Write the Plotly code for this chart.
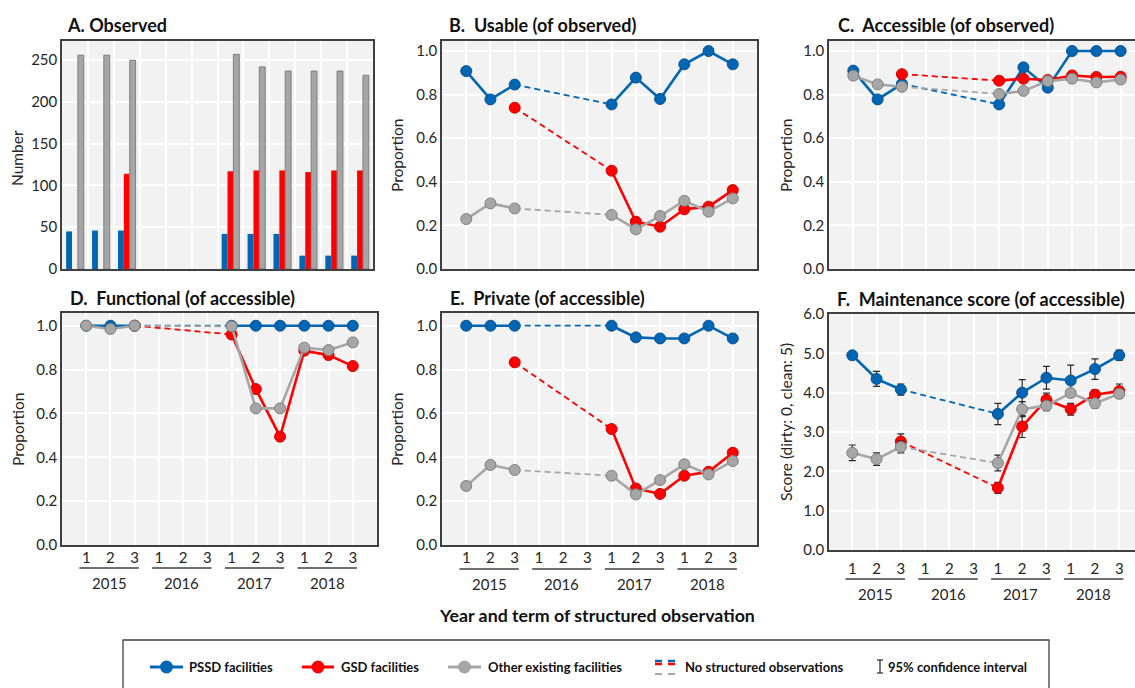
import plotly.graph_objects as go

W, H = 1135, 688

# ---------------- data ----------------
terms = ["1", "2", "3", "1", "2", "3", "1", "2", "3", "1", "2", "3"]
years = ["2015", "2016", "2017", "2018"]
xi = list(range(12))

obs_pssd = [45, 46, 46, None, None, None, 42, 42, 42, 16, 16, 16]
obs_gsd = [None, None, 114, None, None, None, 117, 118, 118, 116, 118, 118]
obs_other = [256, 256, 250, None, None, None, 257, 242, 237, 237, 237, 232]

usable_pssd = [0.908, 0.778, 0.846, None, None, None, 0.755, 0.878, 0.780, 0.939, 1.0, 0.939]
usable_gsd = [None, None, 0.740, None, None, None, 0.451, 0.217, 0.194, 0.274, 0.286, 0.362]
usable_other = [0.229, 0.301, 0.278, None, None, None, 0.248, 0.182, 0.243, 0.313, 0.263, 0.324]

access_pssd = [0.910, 0.778, 0.849, None, None, None, 0.755, 0.925, 0.832, 1.0, 1.0, 1.0]
access_gsd = [None, None, 0.894, None, None, None, 0.864, 0.873, 0.867, 0.888, 0.881, 0.882]
access_other = [0.887, 0.847, 0.836, None, None, None, 0.803, 0.817, 0.862, 0.873, 0.856, 0.869]

func_pssd = [1.0, 1.0, 1.0, None, None, None, 1.0, 1.0, 1.0, 1.0, 1.0, 1.0]
func_gsd = [None, None, 1.0, None, None, None, 0.960, 0.711, 0.494, 0.886, 0.866, 0.816]
func_other = [1.0, 0.985, 1.0, None, None, None, 0.997, 0.623, 0.623, 0.900, 0.889, 0.924]

priv_pssd = [1.0, 1.0, 1.0, None, None, None, 1.0, 0.947, 0.942, 0.942, 1.0, 0.942]
priv_gsd = [None, None, 0.833, None, None, None, 0.529, 0.258, 0.233, 0.316, 0.334, 0.421]
priv_other = [0.269, 0.365, 0.342, None, None, None, 0.316, 0.231, 0.296, 0.368, 0.322, 0.383]

maint_pssd = [4.95, 4.35, 4.08, None, None, None, 3.46, 4.00, 4.38, 4.31, 4.60, 4.95]
maint_pssd_ci = [0.08, 0.19, 0.14, None, None, None, 0.27, 0.33, 0.29, 0.39, 0.26, 0.13]
maint_gsd = [None, None, 2.76, None, None, None, 1.58, 3.14, 3.82, 3.58, 3.95, 4.04]
maint_gsd_ci = [None, None, 0.19, None, None, None, 0.14, 0.28, 0.17, 0.15, 0.12, 0.18]
maint_other = [2.47, 2.31, 2.62, None, None, None, 2.21, 3.58, 3.67, 3.99, 3.73, 3.97]
maint_other_ci = [0.20, 0.16, 0.15, None, None, None, 0.20, 0.19, 0.13, 0.11, 0.12, 0.09]

BLUE, RED, GRAY = "#0066b3", "#ff0000", "#a6a6a6"
EDGE = {BLUE: "#0a4f8f", RED: "#d00000", GRAY: "#7f7f7f"}
FONT = "Lato"


def X(px):
    return px / W


def Y(py):
    return 1 - py / H


fig = go.Figure()

# ---------------- panel A: bars ----------------
for vals, col, name in [(obs_pssd, BLUE, "PSSD"), (obs_gsd, RED, "GSD"), (obs_other, GRAY, "Other")]:
    fig.add_trace(go.Bar(
        x=xi, y=vals, xaxis="x", yaxis="y", name=name, showlegend=False,
        marker=dict(color=col, line=dict(color="#7f7f7f" if col == GRAY else col, width=1 if col == GRAY else 0)),
    ))

# ---------------- line panels ----------------
def line_panel(xa, ya, series, errs=None):
    # dashed connectors across the unobserved year (2015-3 to 2017-1)
    for vals, col in series:
        if vals[2] is not None and vals[6] is not None:
            fig.add_trace(go.Scatter(
                x=[xi[2], xi[6]], y=[vals[2], vals[6]], xaxis=xa, yaxis=ya, mode="lines",
                line=dict(color=col, width=1.8, dash="6px,4px"), showlegend=False, hoverinfo="skip"))
    for k, (vals, col) in enumerate(series):
        ey = None
        if errs is not None:
            ey = dict(type="data", array=errs[k], visible=True, color="#262626", thickness=1.2, width=3.5)
        fig.add_trace(go.Scatter(
            x=xi, y=vals, xaxis=xa, yaxis=ya, mode="lines+markers", connectgaps=False,
            line=dict(color=col, width=2.6),
            marker=dict(size=11, color=col, line=dict(color=EDGE[col], width=1)),
            error_y=ey, showlegend=False))


line_panel("x2", "y2", [(usable_pssd, BLUE), (usable_gsd, RED), (usable_other, GRAY)])
line_panel("x3", "y3", [(access_pssd, BLUE), (access_gsd, RED), (access_other, GRAY)])
line_panel("x4", "y4", [(func_pssd, BLUE), (func_gsd, RED), (func_other, GRAY)])
line_panel("x5", "y5", [(priv_pssd, BLUE), (priv_gsd, RED), (priv_other, GRAY)])
line_panel("x6", "y6", [(maint_pssd, BLUE), (maint_gsd, RED), (maint_other, GRAY)],
           errs=[maint_pssd_ci, maint_gsd_ci, maint_other_ci])

# ---------------- axes ----------------
tickfont = dict(family=FONT, size=15, color="#262626")


def xax(dom, rng, anchor, gridvals, labels=False, ticklen=0, standoff=0, mirror=True):
    d = dict(domain=[X(dom[0]), X(dom[1])], range=rng, anchor=anchor, automargin=False,
             showline=True, linecolor="#404040", linewidth=1.5, mirror=mirror,
             showgrid=True, gridcolor="white", gridwidth=1.5, zeroline=False,
             tickvals=gridvals, tickfont=tickfont, fixedrange=True)
    if labels:
        d.update(ticktext=terms, showticklabels=True, ticks="outside", ticklen=ticklen,
                 tickcolor="rgba(0,0,0,0)", ticklabelstandoff=standoff)
    else:
        d.update(showticklabels=False, ticks="")
    return d


def yax(dom, rng, anchor, dtick, fmt, mirror=True):
    return dict(domain=[Y(dom[1]), Y(dom[0])], range=rng, anchor=anchor, automargin=False,
                showline=True, linecolor="#404040", linewidth=1.5, mirror=mirror,
                showgrid=True, gridcolor="white", gridwidth=1.5, zeroline=False,
                dtick=dtick, tick0=0, tickformat=fmt, tickfont=tickfont, ticks="",
                fixedrange=True)


boundaries = [i + 0.5 for i in range(11)]

layout = dict(
    template="none",
    width=W, height=H, autosize=False, margin=dict(l=0, r=0, t=0, b=0, pad=0),
    paper_bgcolor="white", plot_bgcolor="#f2f2f2",
    barmode="group", bargap=0.32, bargroupgap=0,
    showlegend=False,
    xaxis=xax((62, 373), [-0.5, 11.5], "y", boundaries),
    yaxis=yax((41, 269), [0, 273], "x", 50, "d"),
    xaxis2=xax((442, 757), [-1.0, 12.0], "y2", xi),
    yaxis2=yax((41, 269), [0, 1.046], "x2", 0.2, ".1f"),
    xaxis3=xax((829, 1135), [-1.0, 11.59], "y3", xi),
    yaxis3=yax((41, 269), [0, 1.046], "x3", 0.2, ".1f", mirror=False),
    xaxis4=xax((62, 377), [-1.0, 12.0], "y4", xi, labels=True, ticklen=0, standoff=-2),
    yaxis4=yax((313, 545), [0, 1.058], "x4", 0.2, ".1f"),
    xaxis5=xax((442, 757), [-1.0, 12.0], "y5", xi, labels=True, ticklen=0, standoff=-2),
    yaxis5=yax((313, 545), [0, 1.058], "x5", 0.2, ".1f"),
    xaxis6=xax((829, 1135), [-0.96, 11.65], "y6", xi, labels=True, ticklen=4, standoff=0),
    yaxis6=yax((314, 550), [0, 6.0], "x6", 1.0, ".1f", mirror=False),
)
fig.update_layout(**layout)

annotations = []
shapes = []

titles = [
    ("A. Observed", 65, 25),
    ("B.\u00a0 Usable (of observed)", 447, 25),
    ("C.\u00a0 Accessible (of observed)", 836, 25),
    ("D.\u00a0 Functional (of accessible)", 68, 298),
    ("E.\u00a0 Private (of accessible)", 448, 298),
    ("F.\u00a0 Maintenance score (of accessible)", 835, 299),
]
for t, px, py in titles:
    annotations.append(dict(text="<b>%s</b>" % t, x=X(px), y=Y(py), xref="paper", yref="paper",
                            xanchor="left", yanchor="middle", showarrow=False,
                            font=dict(family=FONT, size=18, color="#111111")))

ytitles = [
    ("Number", 17, 158),
    ("Proportion", 397, 156),
    ("Proportion", 786, 156),
    ("Proportion", 18, 430),
    ("Proportion", 397, 430),
    ("Score (dirty: 0, clean: 5)", 786, 422),
]
for t, px, py in ytitles:
    annotations.append(dict(text=t, x=X(px), y=Y(py), xref="paper", yref="paper",
                            xanchor="center", yanchor="middle", showarrow=False, textangle=-90,
                            font=dict(family=FONT, size=15.5, color="#262626")))

for xa, y_line, y_year in [("x4", 568, 583), ("x5", 569, 584), ("x6", 579, 594)]:
    for g, yr in enumerate(years):
        c0, c1, c2 = xi[3 * g], xi[3 * g + 1], xi[3 * g + 2]
        shapes.append(dict(type="line", xref=xa, yref="paper", x0=c0 - 0.28, x1=c2 + 0.17,
                           y0=Y(y_line), y1=Y(y_line), line=dict(color="#404040", width=1.3)))
        annotations.append(dict(text=yr, x=c1 - 0.05, y=Y(y_year), xref=xa, yref="paper",
                                xanchor="center", yanchor="middle", showarrow=False,
                                font=tickfont))

annotations.append(dict(text="<b>Year and term of structured observation</b>", x=X(597), y=Y(615),
                        xref="paper", yref="paper", xanchor="center", yanchor="middle",
                        showarrow=False, font=dict(family=FONT, size=17.8, color="#111111")))

# legend (drawn); box bottom kept inside the paper
shapes.append(dict(type="rect", xref="paper", yref="paper", x0=X(123), x1=X(1049), y0=Y(700), y1=Y(640),
                   line=dict(color="#404040", width=1.3), fillcolor="rgba(0,0,0,0)"))
ly = 667
legend_items = [("PSSD facilities", BLUE, 150, 183, 187),
                ("GSD facilities", RED, 302, 334, 339),
                ("Other existing facilities", GRAY, 448, 481, 486)]
for text, col, a, b, tx in legend_items:
    shapes.append(dict(type="line", xref="paper", yref="paper", x0=X(a), x1=X(b), y0=Y(ly), y1=Y(ly),
                       line=dict(color=col, width=3)))
    m = (a + b) / 2
    shapes.append(dict(type="circle", xref="paper", yref="paper", x0=X(m - 6.5), x1=X(m + 6.5),
                       y0=Y(ly + 6.5), y1=Y(ly - 6.5), fillcolor=col, line=dict(color=col, width=0)))
    annotations.append(dict(text="<b>%s</b>" % text, x=X(tx), y=Y(ly), xref="paper", yref="paper",
                            xanchor="left", yanchor="middle", showarrow=False,
                            font=dict(family=FONT, size=13, color="#111111")))

for a in (655, 668):
    for col, yy, th in [(BLUE, 661, 2.5), (RED, 664, 2.5), (GRAY, 674, 2.0)]:
        shapes.append(dict(type="line", xref="paper", yref="paper", x0=X(a), x1=X(a + 7),
                           y0=Y(yy), y1=Y(yy), line=dict(color=col, width=th)))
annotations.append(dict(text="<b>No structured observations</b>", x=X(683), y=Y(ly), xref="paper",
                        yref="paper", xanchor="left", yanchor="middle", showarrow=False,
                        font=dict(family=FONT, size=13, color="#111111")))

ex = 880
shapes.append(dict(type="line", xref="paper", yref="paper", x0=X(ex), x1=X(ex), y0=Y(673), y1=Y(660),
                   line=dict(color="#262626", width=1.2)))
for yy in (660, 673):
    shapes.append(dict(type="line", xref="paper", yref="paper", x0=X(ex - 3), x1=X(ex + 3), y0=Y(yy), y1=Y(yy),
                       line=dict(color="#262626", width=1.2)))
annotations.append(dict(text="<b>95% confidence interval</b>", x=X(886), y=Y(ly), xref="paper",
                        yref="paper", xanchor="left", yanchor="middle", showarrow=False,
                        font=dict(family=FONT, size=13, color="#111111")))

fig.update_layout(annotations=annotations, shapes=shapes)
fig.write_html("out.html",
               config={"displayModeBar": False, "responsive": False},
               post_script="document.body.style.margin='0';document.body.style.overflow='hidden';")
